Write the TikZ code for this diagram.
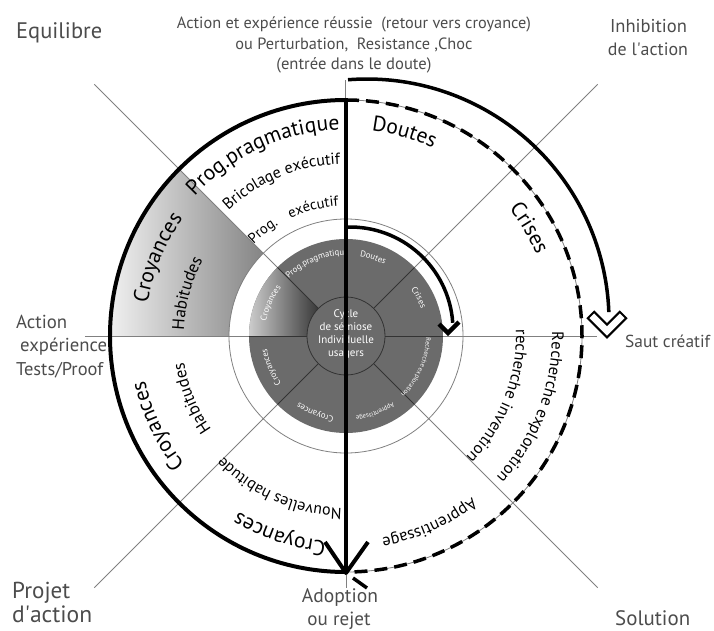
\documentclass[tikz,border=0pt]{standalone}
\usepackage{fontspec}
\setmainfont{PT Sans}
\usetikzlibrary{decorations.text}
\newcommand{\arctxt}[5]{\path[decorate,decoration={text along path,text align=center,text={|#4|#5}}] ({#1+#3}:#2) arc[start angle={#1+#3},end angle={#1-#3},radius=#2];}
\newcommand{\fw}[2]{\resizebox{#1pt}{!}{#2}}
\newcommand{\fLg}{\fontsize{21.5}{22}\selectfont}
\newcommand{\fMd}{\fontsize{16}{18}\selectfont}
\newcommand{\fMs}{\fontsize{14.5}{16}\selectfont}
\newcommand{\fHb}{\fontsize{17}{18}\selectfont}
\newcommand{\fAp}{\fontsize{16.5}{18}\selectfont}
\newcommand{\fSm}{\color{white}\fontsize{8.7}{9}\selectfont}
\newcommand{\fSs}{\color{white}\fontsize{6.6}{7}\selectfont}
\begin{document}
\begin{tikzpicture}[x=1pt,y=1pt,
  thinline/.style={black!50,line width=0.8pt},
  darkline/.style={black!80,line width=0.8pt},
  heavy/.style={line width=4pt},
  lbl/.style={text=black!70,inner sep=0pt}]
\useasboundingbox (-346,-294) rectangle (368,336);
\coordinate (O) at (0,0);
% gradient outer sector
\shade[left color=black!6,right color=black!48] (135:117) -- (135:236) arc[start angle=135,end angle=180,radius=236] -- (180:117) arc[start angle=180,end angle=135,radius=117] -- cycle;
% disc
\fill[black!58] (O) circle[radius=97];
\shade[left color=black!20,right color=black!78] (135:39) -- (135:97) arc[start angle=135,end angle=180,radius=97] -- (180:39) arc[start angle=180,end angle=135,radius=39] -- cycle;
\draw[darkline] (O) circle[radius=39];
% rings
\draw[thinline] (O) circle[radius=117];
\draw[thinline] (O) circle[radius=236];
% radial lines
\foreach \a in {45,135,-45,-135} {
  \draw[thinline] (\a:97) -- (\a:356);
  \draw[darkline] (\a:39) -- (\a:97);
}
\draw[thinline] (-261,0) -- (-97,0);
\draw[thinline] (97,0) -- (251,0);
\draw[darkline] (-97,0) -- (-39,0);
\draw[darkline] (39,0) -- (97,0);
% outer band texts
\arctxt{114.5}{206}{40}{\fLg}{Prog.pragmatique}
\arctxt{112.5}{172}{35}{\fMd}{Bricolage exécutif}
\arctxt{128.3}{130}{12}{\fMs}{Prog.}
\arctxt{104.3}{130}{20}{\fMs}{exécutif}
\arctxt{157.5}{201}{30}{\fLg}{Croyances}
\arctxt{165}{162}{25}{\fHb}{Habitudes}
\arctxt{-154.5}{206}{30}{\fLg}{Croyances}
\arctxt{-158}{164}{25}{\fHb}{Habitudes}
\arctxt{-113.5}{172}{35}{\fMd}{Nouvelles habitude}
\arctxt{-108.5}{206}{30}{\fLg}{Croyances}
\arctxt{-66}{205}{30}{\fAp}{Apprentissage}
\arctxt{-21}{206}{35}{\fAp}{Recherche exploration}
\arctxt{-21.5}{170}{40}{\fAp}{recherche invention}
\arctxt{74}{207}{20}{\fLg}{Doutes}
\arctxt{30.5}{207}{20}{\fLg}{Crises}
% disc texts
\arctxt{113}{81}{35}{\fSm}{Prog.pragmatiqu}
\arctxt{71}{81}{25}{\fSm}{Doutes}
\arctxt{28}{80}{25}{\fSm}{Crises}
\arctxt{-24}{80}{40}{\fSs}{Recherche exploration}
\arctxt{-69}{81}{30}{\fSs}{Apprentissage}
\arctxt{-112}{81}{30}{\fSm}{Croyances}
\arctxt{-157.5}{80}{30}{\fSm}{Croyances}
\arctxt{156.5}{81}{30}{\fSm}{Croyances}
\node[text=white,align=center,font=\fontsize{11}{13}\selectfont,inner sep=0pt] (ctr) at (0,2) {Cycle\\de sémiose\\Individuelle\\usagers};
% heavy strokes
\draw[heavy] (0,236) arc[start angle=90,end angle=270,radius=236];
\draw[line width=3.5pt,dash pattern=on 13pt off 7pt] (0,236) arc[start angle=90,end angle=-90,radius=236];
\coordinate (oc) at (21,15);
\draw[line width=3.5pt] (oc) ++(94.5:242) arc[start angle=94.5,end angle=2.1,radius=242];
\draw[thinline] (-1,256) -- (-1,236);
\draw[fill=white,line width=2pt,line join=miter] (241.8,17.8) -- (261,-1.4) -- (280.2,17.8) -- (273.8,24.2) -- (261,11.4) -- (248.2,24.2) -- cycle;
\coordinate (ic) at (4,6);
\draw[line width=3.5pt] (ic) ++(92.2:103) arc[start angle=92.2,end angle=4,radius=103];
\draw[line width=4.5pt,line join=miter] (93,12) -- (102,3) -- (113,14);
\coordinate (vt) at (0,238);
\coordinate (vb) at (0,-237);
\draw[heavy] (vt) -- (vb);
\draw[heavy,line join=round] (-21,-206) -- (vb) -- (22,-206);
\draw[line width=3.5pt] (7,-242) -- (21,-252);
\draw[thinline] (0,-239) -- (0,-252);
% straight labels
\node[lbl,anchor=base west] (equ) at (-330,298) {\fw{86}{Equilibre}};
\node[lbl,anchor=base] (t1) at (8,308) {\fw{354}{Action et expérience réussie\ \ (retour vers croyance)}};
\node[lbl,anchor=base] (t2) at (8,287) {\fw{237}{ou Perturbation,\ \ Resistance ,Choc}};
\node[lbl,anchor=base] (t3) at (8,267) {\fw{155}{(entrée dans le doute)}};
\node[lbl,anchor=base] (inh1) at (302.5,304) {\fw{77}{Inhibition}};
\node[lbl,anchor=base] (inh2) at (302,281) {\fw{80}{de l\textquotesingle action}};
\node[lbl,anchor=base west] (act1) at (-330,8) {\fw{51}{Action}};
\node[lbl,anchor=base west] (act2) at (-326,-15) {\fw{87}{expérience}};
\node[lbl,anchor=base west] (act3) at (-330,-39) {\fw{87}{Tests/Proof}};
\node[lbl,anchor=base west] (saut) at (279,-11) {\fw{85}{Saut créatif}};
\node[lbl,anchor=base west] (proj1) at (-334,-262) {\fw{58}{Projet}};
\node[lbl,anchor=base west] (proj2) at (-334,-286) {\fw{80}{d\textquotesingle action}};
\node[lbl,anchor=base] (ad1) at (-6,-266) {\fw{76}{Adoption}};
\node[lbl,anchor=base] (ad2) at (-7,-289) {\fw{63}{ou rejet}};
\node[lbl,anchor=base west] (sol) at (269,-289) {\fw{75}{Solution}};
\end{tikzpicture}
\end{document}
